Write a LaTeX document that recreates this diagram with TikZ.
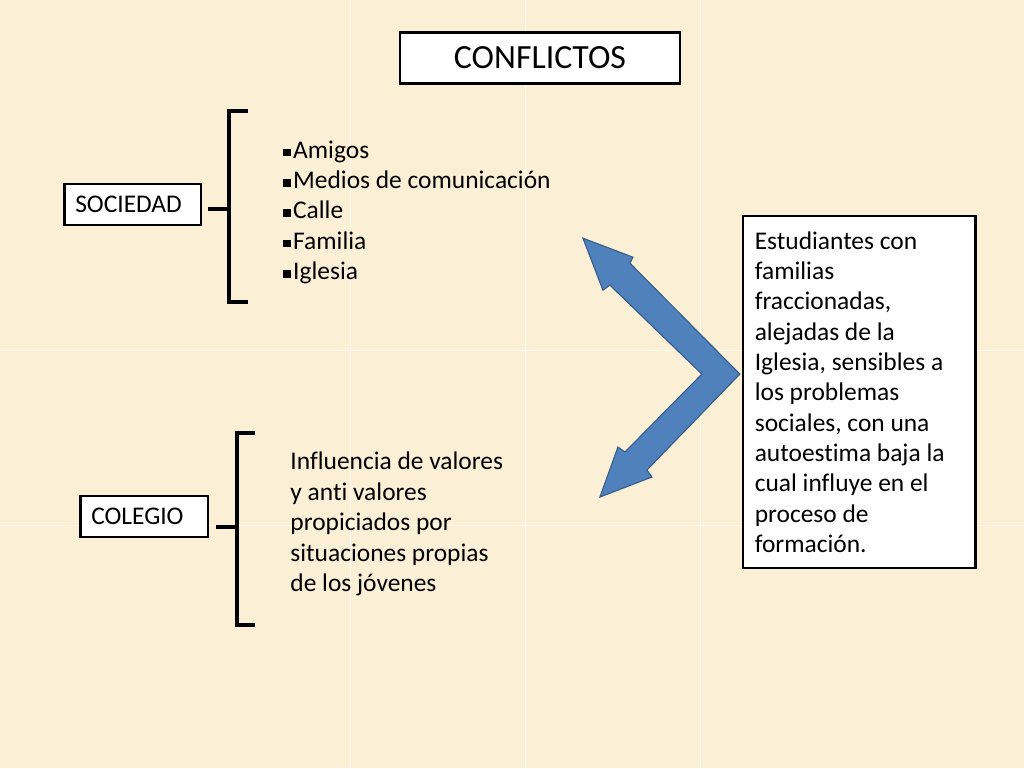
\documentclass[tikz,border=0pt]{standalone}
\usepackage{fontspec}
\setmainfont{Carlito}[Ligatures={NoCommon}]
\usepackage{tikz}
\usetikzlibrary{calc}
\definecolor{paper}{HTML}{FBF0D6}
\definecolor{arrowblue}{HTML}{4F81BD}
\definecolor{arrowedge}{HTML}{385D8A}
\newcommand{\sqbullet}{\rule[0.07em]{0.3em}{0.3em}\kern1.5pt}

\begin{document}
\begin{tikzpicture}[x=0.025cm, y=-0.025cm,
    box/.style={draw=black, line width=1.8pt, fill=white, inner sep=0pt},
    brace/.style={line width=2.8pt},
    txt/.style={font=\fontsize{18.1}{21.6}\selectfont, align=flush left, inner sep=0pt, anchor=north west}]
  % Background
  \fill[paper] (0,0) rectangle (1024,768);
  \foreach \s in {350,525,700}
    \draw[white, opacity=0.6, line width=0.5pt] (\s,0) -- (\s,768);
  \foreach \s in {350,525}
    \draw[white, opacity=0.6, line width=0.5pt] (0,\s) -- (1024,\s);
  \useasboundingbox (0,0) rectangle (1024,768);
  % Title
  \node[box, minimum width=7cm, minimum height=1.275cm,
        font=\fontsize{24.1}{29}\selectfont] (title) at (540,57.5) {CONFLICTOS};
  % Sociedad
  \node[box, font=\fontsize{18.1}{21.6}\selectfont, minimum height=1.025cm,
        text width=2.875cm, inner xsep=0.275cm, align=flush left] (soc) at (132.5,204.5) {SOCIEDAD};
  \coordinate (soctop) at (248,111);
  \coordinate (socbot) at (248,302);
  \coordinate (socmid) at (229,209);
  \draw[brace] (soctop) -- (229,111) -- (229,302) -- (socbot);
  \draw[brace] ($(soc.east |- socmid)+(6,0)$) -- (socmid);
  \node[txt] (lista) at (283,140) {\sqbullet Amigos\\\sqbullet Medios de comunicación\\
    \sqbullet Calle\\\sqbullet Familia\\\sqbullet Iglesia};
  % Colegio
  \node[box, font=\fontsize{18.1}{21.6}\selectfont, minimum height=1.025cm,
        text width=2.65cm, inner xsep=0.275cm, align=flush left] (col) at (144,516.5) {COLEGIO};
  \coordinate (coltop) at (255,433);
  \coordinate (colbot) at (255,625);
  \coordinate (colmid) at (237,527);
  \draw[brace] (coltop) -- (237,433) -- (237,625) -- (colbot);
  \draw[brace] ($(col.east |- colmid)+(7,0)$) -- (colmid);
  \node[txt] (influencia) at (290,452) {Influencia de valores\\y anti valores\\
    propiciados por\\situaciones propias\\de los jóvenes};
  % Double arrow
  \filldraw[fill=arrowblue, draw=arrowedge, line width=0.8pt, line join=miter]
    (583,238) -- (633,257) -- (630,263) -- (740,374) -- (647,470) -- (652,477)
    -- (600,497) -- (618,447) -- (625,452) -- (702,374) -- (610,285) -- (603,290) -- cycle;
  % Conclusion
  \node[box, font=\fontsize{18.1}{21.6}\selectfont, minimum height=8.8cm,
        text width=5.225cm, inner xsep=0.3cm, align=flush left] (resumen) at (859.5,392)
    {Estudiantes con\\familias\\fraccionadas,\\alejadas de la\\Iglesia, sensibles a\\
     los problemas\\sociales, con una\\autoestima baja la\\cual influye en el\\
     proceso de\\formación.};
\end{tikzpicture}
\end{document}
